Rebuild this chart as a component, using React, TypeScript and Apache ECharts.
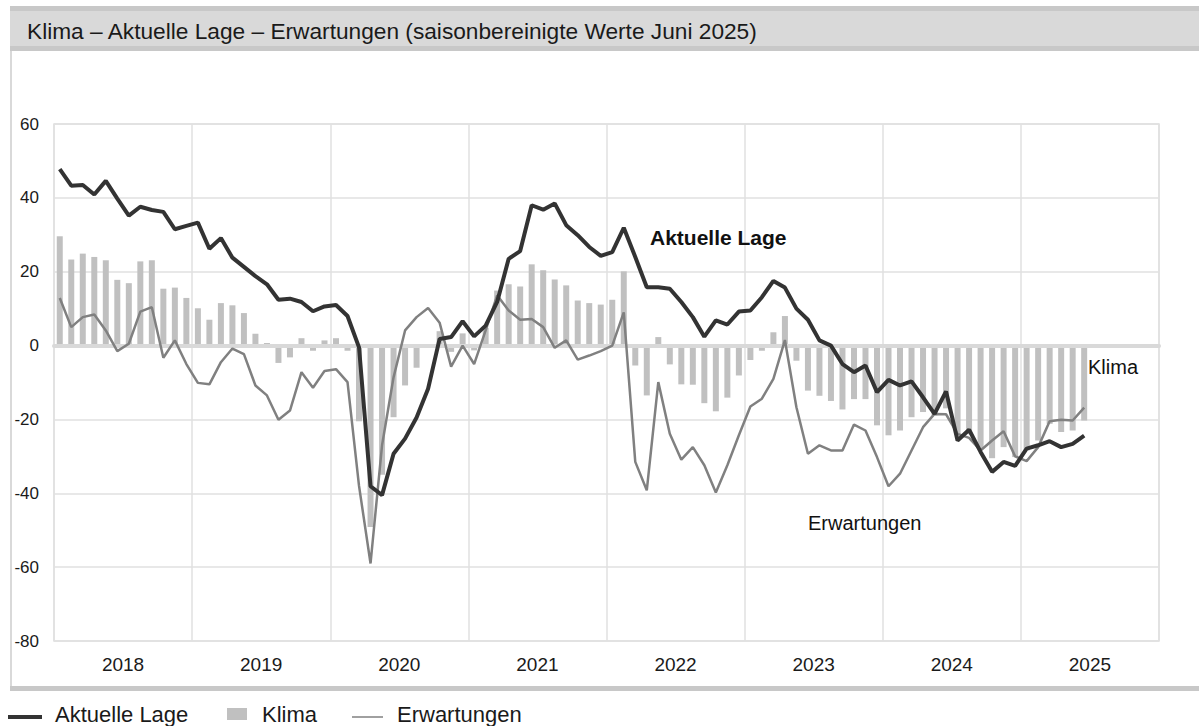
import React, { useEffect, useRef } from 'react';
import * as echarts from 'echarts';

const FONT = '"Liberation Sans", Arial, Helvetica, sans-serif';

const years = ['2018', '2019', '2020', '2021', '2022', '2023', '2024', '2025'];
const yTicks = { min: -80, max: 60, interval: 20 };

// monthly categories Jan 2018 .. Dec 2025 (data until Jun 2025)
const monthCategories = years.flatMap((y) =>
  Array.from({ length: 12 }, (_, m) => `${y}-${String(m + 1).padStart(2, '0')}`)
);

const aktuelleLage = [
  47.8, 43.3, 43.5, 40.9, 44.6, 39.8, 35.2, 37.6, 36.7, 36.2, 31.5, 32.4,
  33.3, 26.2, 29.1, 23.8, 21.3, 18.8, 16.6, 12.4, 12.7, 11.8, 9.3, 10.6,
  11.0, 8.0, -0.5, -38.1, -40.5, -29.3, -25.2, -19.5, -11.7, 1.8, 2.3, 6.6,
  2.5, 5.4, 11.8, 23.5, 25.6, 38.0, 36.8, 38.5, 32.6, 29.9, 26.7, 24.3,
  25.3, 31.9, 24.0, 15.8, 15.8, 15.4, 11.8, 7.7, 2.4, 6.8, 5.7, 9.2,
  9.5, 13.1, 17.5, 15.7, 10.0, 7.0, 1.4, 0.0, -5.0, -7.2, -5.4, -12.6,
  -9.3, -10.8, -9.7, -14.0, -18.5, -12.4, -25.7, -22.8, -28.8, -34.2, -31.5, -32.6,
  -27.9, -27.0, -25.9, -27.5, -26.6, -24.4,
];

const erwartungen = [
  12.9, 5.0, 7.7, 8.4, 4.1, -1.5, 0.5, 9.2, 10.4, -3.3, 1.4, -5.0,
  -10.1, -10.5, -4.5, -0.8, -2.3, -10.8, -13.5, -20.1, -17.6, -7.2, -11.4, -6.9,
  -6.4, -9.9, -38.0, -59.0, -27.0, -8.6, 4.1, 7.7, 10.2, 6.2, -5.7, 0.0,
  -5.0, 4.1, 13.6, 9.5, 7.0, 7.2, 5.0, -0.6, 1.4, -3.8, -2.7, -1.5,
  0.0, 9.0, -31.5, -39.2, -9.9, -23.9, -30.9, -27.5, -32.4, -39.8, -32.4, -24.3,
  -16.5, -14.4, -9.0, 1.5, -16.7, -29.3, -27.0, -28.4, -28.4, -21.4, -23.0, -30.2,
  -38.1, -34.7, -28.4, -22.1, -18.5, -18.6, -23.9, -25.0, -28.4, -25.7, -23.2, -30.0,
  -31.3, -27.5, -20.5, -20.1, -20.3, -16.8,
];

const klima = [
  29.6, 23.3, 24.9, 24.0, 23.1, 17.8, 16.9, 22.8, 23.1, 15.4, 15.7, 12.9,
  10.1, 7.0, 11.5, 10.9, 8.8, 3.2, 0.7, -4.7, -3.2, 2.0, -1.4, 1.4,
  2.0, -1.4, -20.5, -49.1, -35.0, -19.4, -10.8, -6.0, -0.5, 3.9, -1.7, 3.3,
  -1.3, 4.8, 14.9, 16.6, 16.0, 22.0, 20.4, 17.9, 16.3, 12.2, 11.5, 11.1,
  12.4, 20.1, -5.4, -13.5, 2.3, -5.1, -10.5, -10.6, -15.6, -17.8, -14.1, -8.1,
  -3.9, -1.4, 3.6, 8.0, -4.1, -12.2, -13.6, -15.0, -17.3, -14.5, -14.5, -21.6,
  -24.3, -23.0, -19.4, -18.0, -18.9, -17.0, -24.0, -24.0, -28.0, -30.5, -27.5, -30.2,
  -28.4, -25.7, -21.2, -23.4, -23.0, -20.3,
];

const titleText = 'Klima – Aktuelle Lage – Erwartungen (saisonbereinigte Werte Juni 2025)';

const COLORS = {
  lage: '#333333',
  klima: '#c0c0c0',
  erw: '#808080',
  grid: '#e0e0e0',
  zero: '#d9d9d9',
  band: '#d9d9d9',
  bandEdge: '#c8c8c8',
  text: '#1a1a1a',
};

export default function App() {
  const ref = useRef<HTMLDivElement>(null);

  useEffect(() => {
    if (!ref.current) return;
    const chart = echarts.init(ref.current, null, { renderer: 'svg' });

    const option: any = {
      animation: false,
      backgroundColor: '#ffffff',
      textStyle: { fontFamily: FONT },
      grid: {
        left: 54,
        right: 40,
        top: 124,
        bottom: 85,
        show: true,
        borderColor: COLORS.grid,
        borderWidth: 1.5,
      },
      xAxis: [
        {
          type: 'category',
          data: monthCategories,
          boundaryGap: true,
          z: 3,
          axisLine: { show: true, onZero: true, lineStyle: { color: COLORS.zero, width: 4 } },
          axisTick: { show: false },
          axisLabel: { show: false },
          splitLine: { show: false },
        },
        {
          type: 'category',
          data: years,
          position: 'bottom',
          boundaryGap: true,
          axisLine: { show: false, onZero: false },
          axisTick: { show: false },
          axisLabel: {
            show: true,
            interval: 0,
            fontSize: 19,
            color: COLORS.text,
            fontFamily: FONT,
            margin: 14,
          },
          splitLine: { show: true, interval: 0, lineStyle: { color: COLORS.grid, width: 1.5 } },
        },
      ],
      yAxis: {
        type: 'value',
        min: yTicks.min,
        max: yTicks.max,
        interval: yTicks.interval,
        axisLine: { show: false },
        axisTick: { show: false },
        axisLabel: { fontSize: 17, color: COLORS.text, fontFamily: FONT, margin: 15 },
        splitLine: { show: true, lineStyle: { color: COLORS.grid, width: 1.5 } },
      },
      series: [
        {
          name: 'Klima',
          type: 'bar',
          xAxisIndex: 0,
          data: klima,
          barWidth: 6,
          itemStyle: { color: COLORS.klima },
          z: 2,
        },
        {
          name: 'Erwartungen',
          type: 'line',
          xAxisIndex: 0,
          data: erwartungen,
          symbol: 'none',
          showSymbol: false,
          lineStyle: { color: COLORS.erw, width: 2.5 },
          z: 4,
        },
        {
          name: 'Aktuelle Lage',
          type: 'line',
          xAxisIndex: 0,
          data: aktuelleLage,
          symbol: 'none',
          showSymbol: false,
          lineStyle: { color: COLORS.lage, width: 4 },
          z: 5,
        },
      ],
      graphic: [
        // header band
        { type: 'rect', silent: true, z: 0, shape: { x: 10, y: 6, width: 1189, height: 5 }, style: { fill: COLORS.bandEdge } },
        { type: 'rect', silent: true, z: 0, shape: { x: 10, y: 11, width: 1189, height: 35 }, style: { fill: COLORS.band } },
        { type: 'rect', silent: true, z: 0, shape: { x: 10, y: 46, width: 1189, height: 5 }, style: { fill: COLORS.bandEdge } },
        {
          type: 'text',
          silent: true,
          z: 1,
          x: 27,
          y: 31,
          style: { text: titleText, fill: COLORS.text, fontSize: 22.7, fontFamily: FONT, verticalAlign: 'middle', align: 'left' },
        },
        // frame left + bottom band
        { type: 'rect', silent: true, z: 0, shape: { x: 10, y: 51, width: 2, height: 635 }, style: { fill: COLORS.band } },
        { type: 'rect', silent: true, z: 0, shape: { x: 10, y: 686, width: 1189, height: 5 }, style: { fill: COLORS.bandEdge } },
        // annotations
        {
          type: 'text', silent: true, z: 10, x: 650, y: 237,
          style: { text: 'Aktuelle Lage', fill: '#111111', fontSize: 21, fontWeight: 'bold', fontFamily: FONT, verticalAlign: 'middle' },
        },
        {
          type: 'text', silent: true, z: 10, x: 1088, y: 367,
          style: { text: 'Klima', fill: '#111111', fontSize: 20, fontFamily: FONT, verticalAlign: 'middle' },
        },
        {
          type: 'text', silent: true, z: 10, x: 808, y: 523,
          style: { text: 'Erwartungen', fill: '#111111', fontSize: 20, fontFamily: FONT, verticalAlign: 'middle' },
        },
        // legend
        { type: 'line', silent: true, shape: { x1: 8, y1: 717, x2: 42, y2: 717 }, style: { stroke: COLORS.lage, lineWidth: 4 } },
        {
          type: 'text', silent: true, x: 55, y: 714,
          style: { text: 'Aktuelle Lage', fill: COLORS.text, fontSize: 22, fontFamily: FONT, verticalAlign: 'middle' },
        },
        { type: 'rect', silent: true, shape: { x: 227, y: 708, width: 20, height: 12 }, style: { fill: COLORS.klima } },
        {
          type: 'text', silent: true, x: 262, y: 714,
          style: { text: 'Klima', fill: COLORS.text, fontSize: 22, fontFamily: FONT, verticalAlign: 'middle' },
        },
        { type: 'line', silent: true, shape: { x1: 352, y1: 717, x2: 383, y2: 717 }, style: { stroke: COLORS.erw, lineWidth: 1.5 } },
        {
          type: 'text', silent: true, x: 397, y: 714,
          style: { text: 'Erwartungen', fill: COLORS.text, fontSize: 22, fontFamily: FONT, verticalAlign: 'middle' },
        },
      ],
    };

    chart.setOption(option);
    return () => chart.dispose();
  }, []);

  return (
    <div
      ref={ref}
      style={{ position: 'absolute', left: 0, top: 0, width: 1199, height: 726, background: '#ffffff' }}
    />
  );
}
